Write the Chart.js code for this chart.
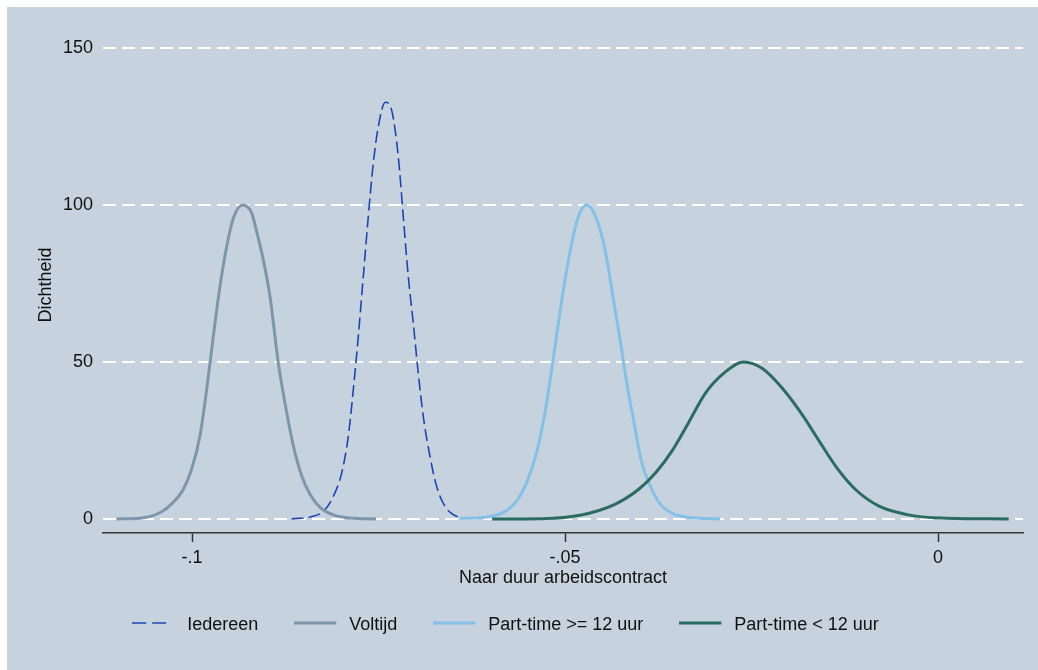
<!DOCTYPE html>
<html>
<head>
<meta charset="utf-8">
<script src="https://cdn.jsdelivr.net/npm/chart.js@4/dist/chart.umd.min.js"></script>
<style>
  html, body { margin: 0; padding: 0; background: #ffffff; }
  #grafiek { display: block; }
</style>
</head>
<body>
<canvas id="grafiek" width="1038" height="670"></canvas>
<script>
// kernel density curves
const iedereenX = [-0.08664,-0.08395,-0.08240,-0.08106,-0.07994,-0.07905,-0.07838,-0.07771,-0.07704,-0.07637,-0.07570,-0.07503,-0.07409,-0.07324,-0.07235,-0.07168,-0.07101,-0.07034,-0.06967,-0.06900,-0.06810,-0.06721,-0.06609,-0.06498,-0.06386];
const iedereenY = [0,0.8,2.4,7.2,14.6,26.3,41.1,58.1,77.2,96.3,113.3,124.9,132.7,130.2,115.4,96.3,77.2,62.4,46.4,32.7,19.9,10.4,4.0,1.4,0.3];

const voltijdX = [-0.11010,-0.10652,-0.10407,-0.10273,-0.10116,-0.10004,-0.09893,-0.09803,-0.09714,-0.09625,-0.09535,-0.09446,-0.09321,-0.09200,-0.09133,-0.09044,-0.08955,-0.08843,-0.08754,-0.08642,-0.08530,-0.08418,-0.08284,-0.08106,-0.07882,-0.07534];
const voltijdY = [0,0.4,2.3,4.8,9.5,15.9,26.5,41.3,58.2,74.1,86.8,95.8,100,97.4,91.5,82.5,70.9,49.7,37.0,23.3,13.8,7.9,3.7,1.3,0.3,0];

const ptGrootX = [-0.06408,-0.06095,-0.05827,-0.05648,-0.05514,-0.05380,-0.05268,-0.05179,-0.05089,-0.05000,-0.04910,-0.04821,-0.04709,-0.04597,-0.04463,-0.04351,-0.04262,-0.04173,-0.04083,-0.03972,-0.03860,-0.03726,-0.03547,-0.03324,-0.03190,-0.02922];
const ptGrootY = [0.2,0.5,2.1,5.8,11.6,21.2,33.9,47.6,62.4,76.2,87.8,96.3,100,96.8,85.7,69.8,57.1,43.4,31.7,18.0,10.6,4.8,1.6,0.5,0.2,0];

const ptKleinX = [-0.05977,-0.05308,-0.04800,-0.04339,-0.04016,-0.03785,-0.03554,-0.03346,-0.03115,-0.02862,-0.02607,-0.02354,-0.02054,-0.01823,-0.01593,-0.01338,-0.01107,-0.00784,-0.00416,0.00047,0.00948];
const ptKleinY = [0,0.1,1.2,4.6,9.4,14.7,22.1,30.6,40.2,46.6,50.0,47.9,40.7,33.3,24.8,15.7,9.4,4.0,1.4,0.3,0];

const reeksNamen = ["Iedereen", "Voltijd", "Part-time >= 12 uur", "Part-time < 12 uur"];
const xTicks = [-0.1, -0.05, 0];
const xTickLabels = ["-.1", "-.05", "0"];
const yTicks = [0, 50, 100, 150];

const achtergrond = "#c6d3de";
const lettertype = "'Liberation Sans', Arial, sans-serif";

function punten(xs, ys) {
  return xs.map((x, i) => ({ x: x, y: ys[i] }));
}

// small line sample for the legend (line + a bit of empty room before the text)
function staaltje(kleur, dikte, streep, lengte) {
  const c = document.createElement("canvas");
  c.width = 46;
  c.height = 8;
  const g = c.getContext("2d");
  g.strokeStyle = kleur;
  g.lineWidth = dikte;
  g.setLineDash(streep);
  g.beginPath();
  g.moveTo(0, 2);
  g.lineTo(lengte, 2);
  g.stroke();
  return c;
}

const achtergrondPlugin = {
  id: "achtergrond",
  afterLayout(chart) {
    // legend sits a few px more to the left in the original
    chart.legend.left -= 6;
    chart.legend.right -= 6;
  },
  beforeDraw(chart) {
    const ctx = chart.ctx;
    ctx.save();
    ctx.fillStyle = "#ffffff";
    ctx.fillRect(0, 0, chart.width, chart.height);
    ctx.fillStyle = achtergrond;
    ctx.fillRect(7, 7, chart.width - 7, chart.height - 7);
    ctx.restore();
  }
};

function lijn(label, xs, ys, kleur, dikte, streep, volgorde, staalLengte) {
  return {
    label: label,
    data: punten(xs, ys),
    borderColor: kleur,
    backgroundColor: kleur,
    borderWidth: dikte,
    borderDash: streep,
    pointRadius: 0,
    pointHoverRadius: 0,
    pointStyle: staaltje(kleur, dikte, streep.length ? [14, 6] : [], staalLengte),
    cubicInterpolationMode: "monotone",
    fill: false,
    order: volgorde
  };
}

const ctx = document.getElementById("grafiek").getContext("2d");
const grafiek = new Chart(ctx, {
  type: "line",
  data: {
    datasets: [
      lijn(reeksNamen[0], iedereenX, iedereenY, "#1c45b3", 1.6, [12, 5], 4, 34),
      lijn(reeksNamen[1], voltijdX, voltijdY, "#7f96aa", 3, [], 3, 42),
      lijn(reeksNamen[2], ptGrootX, ptGrootY, "#85c0e9", 3, [], 2, 42),
      lijn(reeksNamen[3], ptKleinX, ptKleinY, "#2c6b62", 3, [], 1, 42)
    ]
  },
  plugins: [achtergrondPlugin],
  options: {
    responsive: false,
    animation: false,
    events: [],
    devicePixelRatio: 1,
    layout: { padding: { left: 0, right: 15, top: 37, bottom: 26 } },
    plugins: {
      tooltip: { enabled: false },
      legend: {
        position: "bottom",
        labels: {
          usePointStyle: true,
          pointStyleWidth: 46,
          padding: 36,
          color: "#111111",
          font: { family: lettertype, size: 18 },
          sort: (a, b) => a.datasetIndex - b.datasetIndex
        }
      }
    },
    scales: {
      x: {
        type: "linear",
        min: -0.11193,
        max: 0.01139,
        afterBuildTicks: (scale) => { scale.ticks = xTicks.map(v => ({ value: v })); },
        afterFit: (scale) => { scale.height = 47; },
        grid: {
          display: true,
          drawOnChartArea: false,
          drawTicks: true,
          tickLength: 9,
          tickColor: "#333333",
          tickWidth: 1.5
        },
        border: { display: true, color: "#333333", width: 1.5 },
        ticks: {
          padding: 5,
          color: "#111111",
          font: { family: lettertype, size: 18 },
          callback: (v, i) => xTickLabels[i]
        },
        title: {
          display: true,
          text: "Naar duur arbeidscontract",
          color: "#111111",
          font: { family: lettertype, size: 18 },
          padding: { top: 0, bottom: -8.6 }
        }
      },
      y: {
        min: -4.46,
        max: 153.5,
        afterBuildTicks: (scale) => { scale.ticks = yTicks.map(v => ({ value: v })); },
        afterFit: (scale) => { scale.width = 103; },
        grid: {
          color: "#ffffff",
          lineWidth: 2,
          drawTicks: false
        },
        border: { display: false, dash: [13, 6] },
        ticks: {
          padding: 10,
          color: "#111111",
          font: { family: lettertype, size: 18 }
        },
        title: {
          display: true,
          text: "Dichtheid",
          color: "#111111",
          font: { family: lettertype, size: 18 },
          padding: { top: 35, bottom: 0 }
        }
      }
    }
  }
});
</script>
</body>
</html>
